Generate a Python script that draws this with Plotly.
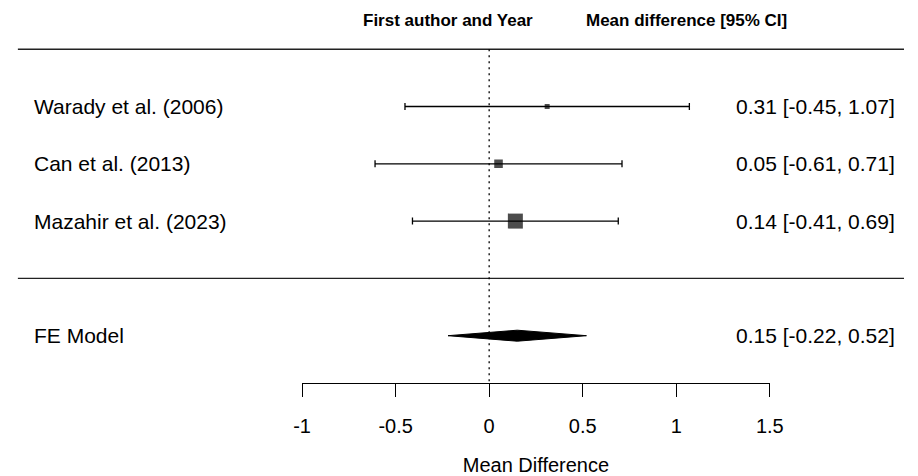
import plotly.graph_objects as go

# ---- data ----
studies = ["Warady et al. (2006)", "Can et al. (2013)", "Mazahir et al. (2023)"]
estimates = [0.31, 0.05, 0.14]
ci_lower = [-0.45, -0.61, -0.41]
ci_upper = [1.07, 0.71, 0.69]

model_label = "FE Model"
model_est = 0.15
model_lower = -0.22
model_upper = 0.52

tick_values = [-1, -0.5, 0, 0.5, 1, 1.5]
tick_labels = ["-1", "-0.5", "0", "0.5", "1", "1.5"]

header_left = "First author and Year"
header_right = "Mean difference [95% CI]"
x_title = "Mean Difference"

# ---- layout constants (pixels) ----
W, H = 918, 476
ROW0_PX = 106.5      # pixel row of first study
ROW_STEP = 57.3      # pixels between rows
AXIS_PX = 382.5      # pixel row of the x axis line


def row(px):
    return (px - ROW0_PX) / ROW_STEP


def sx(px):
    # horizontal pixel -> paper fraction (small correction for page rendering)
    return min(1.0, max(0.0, (px - 4) / 0.988 / W))


study_rows = list(range(len(studies)))
model_row = len(studies) + 1

# marker size from inverse-variance weights
se = [(u - l) / (2 * 1.96) for l, u in zip(ci_lower, ci_upper)]
weights = [1 / s ** 2 for s in se]
wmin, wmax = min(weights), max(weights)
sizes = [5 + (w - wmin) / (wmax - wmin) * 10 for w in weights]

FAM = "Liberation Sans, Arial, sans-serif"
BODY_FONT = dict(family=FAM, size=21, color="black")
HEAD_FONT = dict(family=FAM, size=17, color="black")

fig = go.Figure()

# study estimates with CIs
fig.add_trace(go.Scatter(
    x=estimates, y=study_rows, mode="markers",
    marker=dict(symbol="square", size=sizes, color="black", line=dict(width=0)),
    error_x=dict(type="data", symmetric=False,
                 array=[u - e for u, e in zip(ci_upper, estimates)],
                 arrayminus=[e - l for e, l in zip(estimates, ci_lower)],
                 color="black", thickness=1.3, width=3.5),
    hoverinfo="skip",
))

# summary diamond
dh = 5.5 / ROW_STEP
fig.add_trace(go.Scatter(
    x=[model_lower, model_est, model_upper, model_est, model_lower],
    y=[model_row, model_row - dh, model_row, model_row + dh, model_row],
    mode="lines", fill="toself", fillcolor="black",
    line=dict(color="black", width=1), hoverinfo="skip",
))

shapes = [
    dict(type="line", xref="paper", yref="y", x0=sx(13), x1=1, y0=-1, y1=-1,
         line=dict(color="#222", width=1.4)),
    dict(type="line", xref="paper", yref="y", x0=sx(13), x1=1,
         y0=len(studies), y1=len(studies), line=dict(color="#222", width=1.4)),
    dict(type="line", xref="x", yref="y", x0=0, x1=0, y0=-1, y1=row(AXIS_PX),
         line=dict(color="black", width=1.3, dash="2px,4px")),
]

annotations = []
for name, r, e, l, u in zip(studies, study_rows, estimates, ci_lower, ci_upper):
    annotations.append(dict(x=sx(27), xref="paper", y=r, yref="y", text=name,
                            showarrow=False, xanchor="left", yanchor="middle", font=BODY_FONT))
    annotations.append(dict(x=sx(904), xref="paper", y=r, yref="y",
                            text=f"{e:.2f} [{l:.2f}, {u:.2f}]",
                            showarrow=False, xanchor="right", yanchor="middle", font=BODY_FONT))
annotations.append(dict(x=sx(27), xref="paper", y=model_row, yref="y", text=model_label,
                        showarrow=False, xanchor="left", yanchor="middle", font=BODY_FONT))
annotations.append(dict(x=sx(904), xref="paper", y=model_row, yref="y",
                        text=f"{model_est:.2f} [{model_lower:.2f}, {model_upper:.2f}]",
                        showarrow=False, xanchor="right", yanchor="middle", font=BODY_FONT))
annotations.append(dict(x=sx(449), xref="paper", y=row(20), yref="y",
                        text=f"<b>{header_left}</b>", showarrow=False,
                        xanchor="center", yanchor="middle", font=HEAD_FONT))
annotations.append(dict(x=sx(794), xref="paper", y=row(20), yref="y",
                        text=f"<b>{header_right}</b>", showarrow=False,
                        xanchor="right", yanchor="middle", font=HEAD_FONT))

fig.update_layout(
    width=W, height=H,
    margin=dict(l=0, r=0, t=0, b=0),
    paper_bgcolor="white", plot_bgcolor="white",
    showlegend=False,
    shapes=shapes, annotations=annotations,
    xaxis=dict(
        domain=[sx(301), sx(775)], range=[-1, 1.5],
        anchor="free", position=1 - AXIS_PX / H,
        showline=True, linecolor="black", linewidth=1.3,
        ticks="outside", ticklen=13, tickwidth=1.3, tickcolor="black",
        tickvals=tick_values, ticktext=tick_labels,
        tickfont=dict(family=FAM, size=20, color="black"),
        ticklabelstandoff=12,
        showgrid=False, zeroline=False,
        title=dict(text=x_title, standoff=23, font=dict(family=FAM, size=20, color="black")),
    ),
    yaxis=dict(
        domain=[0, 1], range=[row(H), row(0)], visible=False,
        showgrid=False, zeroline=False,
    ),
)

fig.write_html(
    "out.html",
    config={"displayModeBar": False},
    post_script=(
        "document.body.style.margin='0';"
        "document.body.style.overflow='hidden';"
    ),
)
